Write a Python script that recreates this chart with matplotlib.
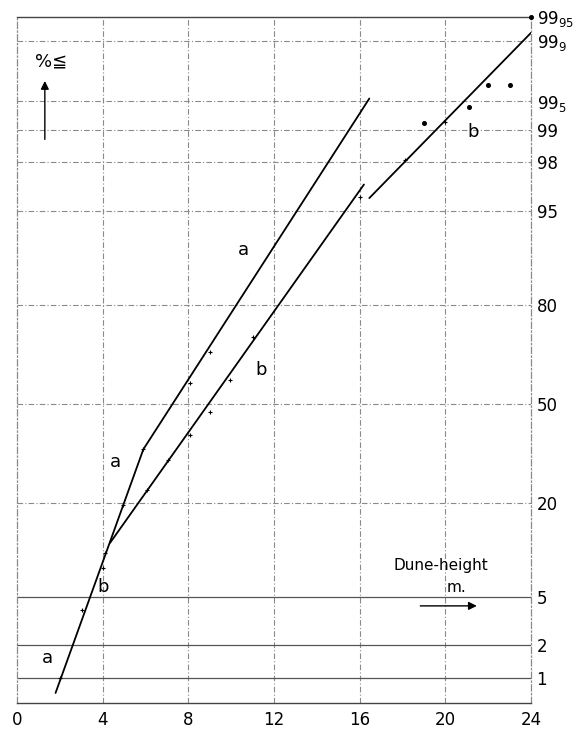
import math
from statistics import NormalDist
import numpy as np
import matplotlib
matplotlib.use("Agg")
import matplotlib.pyplot as plt

# ---- data (dune height in m, cumulative percentage) ----
line_a_x = [1.8, 5.9, 16.45]
line_a_pct = [0.7, 35.0, 99.53]
line_b_x = [4.35, 16.2]
line_b_pct = [11.9, 96.9]
line_b2_x = [16.45, 24.0]
line_b2_pct = [96.0, 99.92]

a_marks_x = [2.0, 3.04, 4.0, 4.95, 5.9, 8.08, 9.0]
a_marks_pct = [1.0, 4.0, 8.2, 19.5, 35.0, 57.0, 67.0]
b_marks_x = [4.1, 6.07, 7.06, 8.08, 9.0, 9.95, 11.0, 16.0, 18.1, 20.0]
b_marks_pct = [10.2, 23.2, 31.7, 39.7, 47.3, 58.0, 71.6, 96.1, 98.1, 99.18]
b_pts_x = [19.0, 21.1, 22.0, 23.0, 24.0]
b_pts_pct = [99.16, 99.42, 99.67, 99.67, 99.95]

x_ticks = [0, 4, 8, 12, 16, 20, 24]
y_ticks = [1, 2, 5, 20, 50, 80, 95, 98, 99, 99.5, 99.9, 99.95]
y_labels = ["1", "2", "5", "20", "50", "80", "95", "98", "99",
            "99$_{5}$", "99$_{9}$", "99$_{95}$"]

_nd = NormalDist()
_inv = np.vectorize(lambda q: _nd.inv_cdf(q), otypes=[float])
_cdf = np.vectorize(lambda z: 0.5 * (1 + math.erf(z / math.sqrt(2))), otypes=[float])


def fwd(p):
    q = np.clip(np.asarray(p, dtype=float) / 100.0, 1e-9, 1 - 1e-9)
    return _inv(q)


def inv(z):
    return 100.0 * _cdf(np.asarray(z, dtype=float))


fig = plt.figure(figsize=(5.79, 7.35), dpi=100)
ax = fig.add_axes([17 / 579, 1 - 703 / 735, (531 - 17) / 579, (703 - 17) / 735])
ax.set_yscale("function", functions=(fwd, inv))
ax.set_xlim(0, 24)
ax.set_ylim(0.55, 99.95)

# grid
gcol = "#8a8a8a"
dd = (0, (5, 2, 1, 2))
for t in x_ticks[1:-1]:
    ax.axvline(t, color=gcol, lw=0.8, ls=dd, zorder=1)
for t in y_ticks[:-1]:
    if t in (1, 2, 5):
        ax.axhline(t, color="#555555", lw=0.9, ls="-", zorder=1)
    else:
        ax.axhline(t, color=gcol, lw=0.8, ls=dd, zorder=1)

for s in ["left", "right"]:
    ax.spines[s].set_color(gcol)
    ax.spines[s].set_linewidth(0.9)
    ax.spines[s].set_linestyle(dd)
for s in ["top", "bottom"]:
    ax.spines[s].set_color("#444444")
    ax.spines[s].set_linewidth(1.0)

# lines
lk = dict(color="black", lw=1.3, zorder=3, solid_capstyle="round")
ax.plot(line_a_x, line_a_pct, **lk)
ax.plot(line_b_x, line_b_pct, **lk)
ax.plot(line_b2_x, line_b2_pct, **lk)
ax.plot(a_marks_x, a_marks_pct, ls="none", marker="+", ms=3, mew=0.8, color="black", zorder=4)
ax.plot(b_marks_x, b_marks_pct, ls="none", marker="+", ms=3, mew=0.8, color="black", zorder=4)
ax.plot(b_pts_x, b_pts_pct, ls="none", marker="o", ms=2.6, color="black", zorder=4, clip_on=False)

# ticks
ax.set_xticks(x_ticks)
ax.set_xticklabels([str(t) for t in x_ticks], fontsize=12)
ax.set_yticks(y_ticks)
ax.set_yticklabels(y_labels, fontsize=12)
ax.yaxis.tick_right()
ax.yaxis.set_minor_locator(matplotlib.ticker.NullLocator())
ax.tick_params(axis="both", length=0, pad=6)
ax.tick_params(axis="y", pad=4)

# annotations
tk = dict(fontsize=13, color="black", ha="center", va="center")
ax.text(10.55, 90.5, "a", **tk)
ax.text(11.4, 61.4, "b", **tk)
ax.text(4.6, 31.0, "a", **tk)
ax.text(4.0, 6.0, "b", **tk)
ax.text(1.4, 1.55, "a", **tk)
ax.text(21.3, 98.96, "b", **tk)

ax.text(1.6, 99.82, "%≦", fontsize=13, ha="center", va="center")
ax.annotate("", xy=(1.3, 99.72), xytext=(1.3, 98.7),
            arrowprops=dict(arrowstyle="-|>", color="black", lw=1.0, mutation_scale=12))
ax.text(19.8, 8.5, "Dune-height", fontsize=11, ha="center", va="center")
ax.text(20.5, 5.9, "m.", fontsize=11, ha="center", va="center")
ax.annotate("", xy=(21.6, 4.3), xytext=(18.7, 4.3),
            arrowprops=dict(arrowstyle="-|>", color="black", lw=1.0, mutation_scale=12))

fig.savefig("out.png", dpi=100, facecolor="white")
